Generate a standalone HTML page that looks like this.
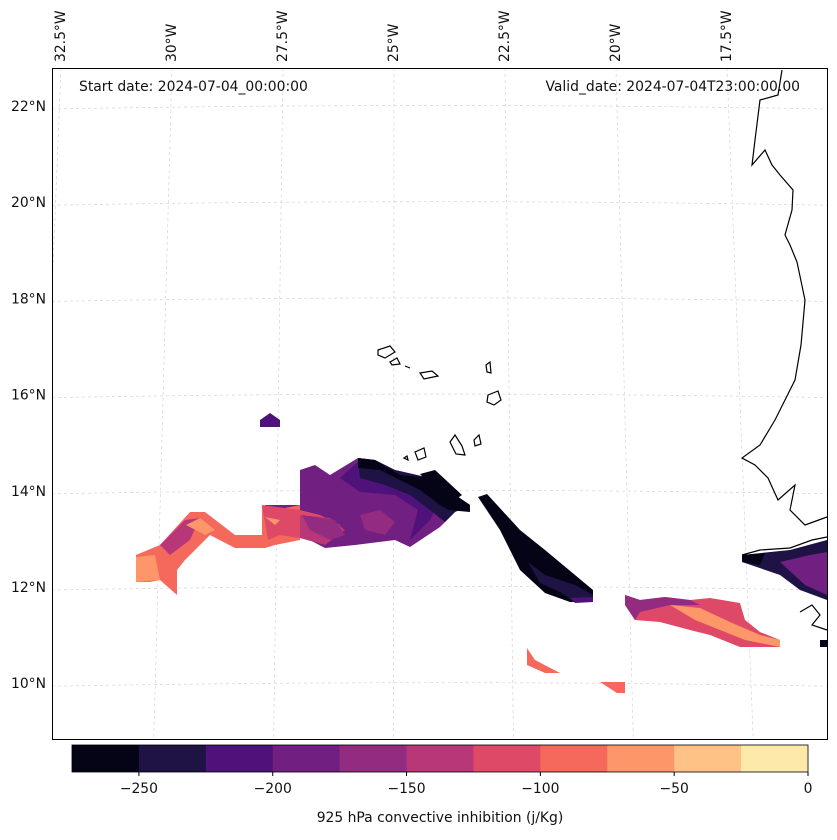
<!DOCTYPE html>
<html><head><meta charset="utf-8"><style>
body{margin:0;background:#fff;font-family:"DejaVu Sans",sans-serif}
svg text{font-family:"DejaVu Sans",sans-serif;font-size:13.9px;fill:#111}
</style></head><body>
<svg id="c" width="837" height="836" xmlns="http://www.w3.org/2000/svg">
<defs><clipPath id="mc"><rect x="52.5" y="68.5" width="775" height="671"/></clipPath></defs>
<g id="grid" clip-path="url(#mc)" stroke="#d4d4d4" stroke-width="0.7" stroke-dasharray="3,3" fill="none"></g>
<g id="fills"></g>
<g fill="none" stroke="#000" stroke-width="1.2">
<path d="M782,70 L778,95 L760,100 L755,140 L752,165 L765,150 L772,165 L780,175 L793,190 L792,210 L785,235 L790,245 L797,262 L805,300 L801,345 L795,380 L775,420 L760,445 L742,458 L755,465 L768,478 L778,500 L795,485 L790,510 L805,525 L827,517"/>
<path d="M742,555 L760,550 L790,548 L812,540 L827,537 M800,612 L812,605 L820,615 L812,625 L827,630"/>
<path d="M378,350 L390,346 L395,352 L385,358 L378,355 Z"/>
<path d="M390,362 L397,358 L400,364 L392,365 Z M405,366 L410,368 M420,373 L432,371 L438,376 L424,379 Z"/>
<path d="M486,365 L490,362 L491,373 L487,372 Z M488,395 L498,391 L501,400 L494,405 L487,402 Z"/>
<path d="M415,452 L424,448 L426,457 L418,460 Z M404,458 L407,456 L408,460 Z M450,442 L455,435 L462,446 L465,455 L456,454 Z M474,440 L479,435 L481,444 L475,446 Z"/>
</g>
<rect x="52.5" y="68.5" width="775" height="671" fill="none" stroke="#000" stroke-width="1"/>
<text x="79" y="91">Start date: 2024-07-04_00:00:00</text>
<text x="800" y="91" text-anchor="end">Valid_date: 2024-07-04T23:00:00.00</text>
<g id="lab"></g>
<g id="cbar"></g>
<text x="440" y="822" text-anchor="middle">925 hPa convective inhibition (j/Kg)</text>
</svg>
<script>
const levels=[-275,-250,-225,-200,-175,-150,-125,-100,-75,-50,-25,0];
const colors=["#050416","#1f1244","#4f127b","#711f81","#932b80","#b73779","#de4968","#f4695c","#fd9668","#fec287","#fde9a9"];
const cbTicks=[-250,-200,-150,-100,-50,0];
const latTicks=[10,12,14,16,18,20,22];
const lonTicks=[-32.5,-30,-27.5,-25,-22.5,-20,-17.5];
const NS="http://www.w3.org/2000/svg";
function mk(t,a,p){const e=document.createElementNS(NS,t);for(const k in a)e.setAttribute(k,a[k]);p.appendChild(e);return e;}
const cx=v=>72+(v+275)/275*736;
const ly=lat=>587-(lat-12)*48.1;
const lxTop=lon=>172+(lon+30)*44.4;
const cb=document.getElementById('cbar');
for(let i=0;i<colors.length;i++){const r=mk('rect',{x:cx(levels[i]),y:745,width:cx(levels[i+1])-cx(levels[i])+0.5,height:27,fill:colors[i]},cb);

}
mk('rect',{x:72,y:745,width:736,height:27,fill:'none',stroke:'#000','stroke-width':0.8},cb);
cbTicks.forEach(v=>{mk('line',{x1:cx(v),x2:cx(v),y1:772,y2:776,stroke:'#000'},cb);const t=mk('text',{x:cx(v),y:793,'text-anchor':'middle'},cb);t.textContent=(v<0?'\u2212'+(-v):v);

});
const g=document.getElementById('grid'),lab=document.getElementById('lab');
latTicks.forEach(l=>{const y=ly(l);mk('path',{d:`M52,${y+3} Q440,${y-4} 827,${y+3}`},g);const t=mk('text',{x:46,y:y+5,'text-anchor':'end'},lab);t.textContent=l+'\u00b0N';

});
lonTicks.forEach(l=>{const x=lxTop(l);mk('line',{x1:x,y1:68,x2:x+(x-400)*0.08,y2:739},g);const t=mk('text',{x:x+4,y:62,transform:`rotate(-90 ${x+4} 62)`},lab);t.textContent=(''+(-l))+'\u00b0W';

});
const F=document.getElementById('fills');
const shapes=[
[3,"M300,470 L315,465 L330,475 L358,458 L375,460 L395,470 L430,478 L470,505 L455,512 L440,527 L410,547 L395,540 L355,545 L325,548 L300,535 L275,540 L265,505 L300,505 Z"],
[7,"M136,555 L160,545 L190,512 L205,512 L235,535 L262,535 L262,505 L275,510 L300,505 L300,540 L275,545 L265,548 L235,548 L210,535 L185,560 L177,570 L177,595 L160,580 L150,582 L136,582 Z"],
[6,"M262,505 L300,510 L320,515 L340,525 L320,540 L300,538 L280,535 L268,540 Z"],
[5,"M300,515 L330,518 L345,530 L325,545 L300,538 Z M160,545 L185,520 L200,518 L190,540 L170,555 Z"],
[8,"M136,557 L155,555 L160,580 L136,582 Z M186,525 L200,518 L215,530 L205,535 Z M265,517 L280,520 L275,525 Z"],
[4,"M360,515 L380,510 L395,522 L385,535 L365,530 Z M302,515 L335,520 L345,535 L330,540 L310,530 Z"],
[2,"M340,478 L358,462 L380,470 L420,480 L440,500 L430,520 L420,530 L410,540 L418,510 L395,495 L360,492 Z"],
[1,"M358,458 L375,460 L395,470 L430,478 L470,505 L455,512 L445,522 L430,510 L410,495 L385,485 L360,478 Z"],
[0,"M358,458 L375,460 L400,475 L430,478 L470,505 L470,512 L448,510 L440,505 L420,490 L400,480 L380,470 L358,468 Z M420,474 L435,470 L462,495 L455,500 L440,495 Z"],
[0,"M478,497 L487,494 L520,530 L545,550 L575,575 L593,590 L593,602 L570,602 L545,593 L520,570 L500,530 Z"],
[1,"M528,562 L545,575 L575,585 L593,595 L593,602 L575,602 L560,592 L540,583 Z"],
[2,"M570,598 L593,597 L593,602 L575,603 Z"],
[2,"M260,420 L270,413 L280,420 L280,427 L260,427 Z"],
[6,"M625,595 L640,600 L665,597 L690,600 L710,598 L740,603 L745,620 L760,632 L780,640 L780,647 L740,647 L710,635 L690,630 L660,622 L635,620 L625,605 Z"],
[8,"M670,605 L700,608 L730,622 L760,635 L780,640 L780,647 L745,640 L720,630 L695,620 Z"],
[4,"M625,595 L640,600 L665,597 L690,600 L700,605 L670,605 L640,612 L635,620 L625,605 Z"],
[7,"M527,648 L535,660 L560,673 L545,673 L527,665 Z M600,682 L625,682 L625,693 L617,693 Z"],
[1,"M742,555 L790,550 L827,540 L827,600 L800,590 L780,575 L742,562 Z"],
[3,"M780,562 L810,555 L827,552 L827,595 L805,585 Z"],
[0,"M742,555 L765,553 L760,565 L742,562 Z M820,640 L827,640 L827,647 L820,647 Z"]
];
shapes.forEach(s=>{const p=mk('path',{d:s[1],fill:colors[s[0]]},F);

});
</script>
</body></html>
